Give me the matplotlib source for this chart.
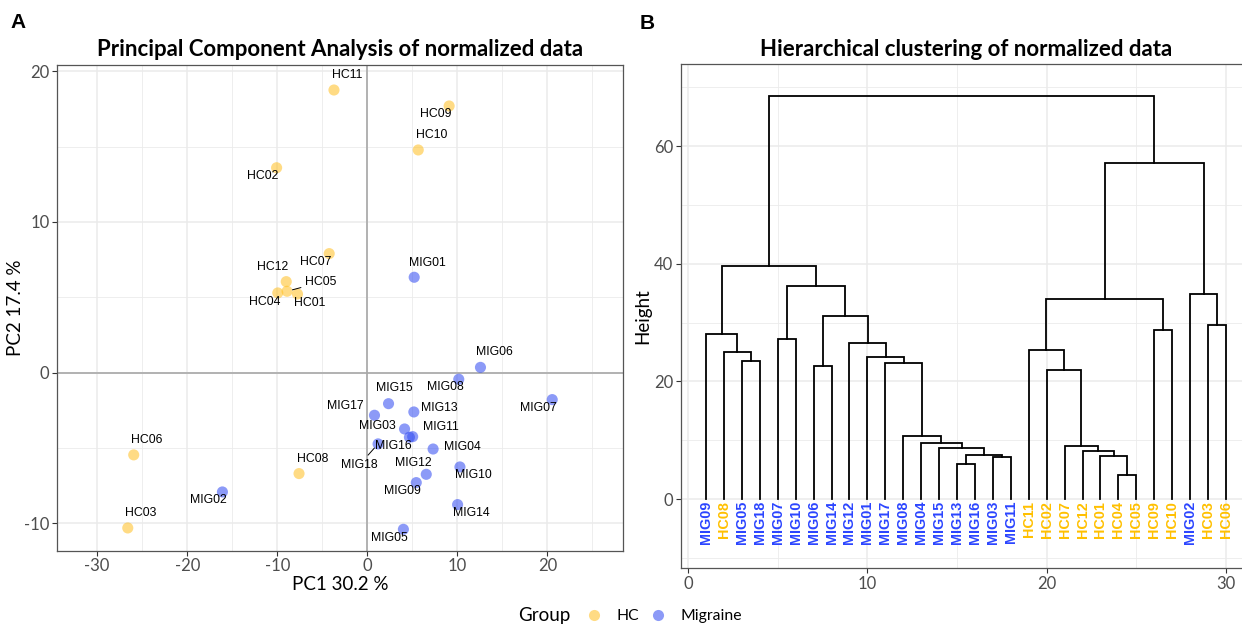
import matplotlib
matplotlib.use("Agg")
import matplotlib.pyplot as plt
from matplotlib.lines import Line2D
from matplotlib.ticker import FixedLocator, FuncFormatter

# ---------------- data ----------------
samples = ["HC01", "HC02", "HC03", "HC04", "HC05", "HC06", "HC07", "HC08", "HC09", "HC10",
           "HC11", "HC12", "MIG01", "MIG02", "MIG03", "MIG04", "MIG05", "MIG06", "MIG07",
           "MIG08", "MIG09", "MIG10", "MIG11", "MIG12", "MIG13", "MIG14", "MIG15", "MIG16",
           "MIG17", "MIG18"]
groups = ["HC"] * 12 + ["Migraine"] * 18
pc1 = [-7.75, -10.07, -26.6, -9.94, -8.91, -25.94, -4.23, -7.58, 9.09, 5.66,
       -3.7, -9.0, 5.21, -16.09, 4.14, 7.31, 4.01, 12.57, 20.54,
       10.16, 5.44, 10.29, 5.04, 6.55, 5.17, 10.03, 2.36, 4.68,
       0.8, 1.2]
pc2 = [5.22, 13.6, -10.31, 5.29, 5.4, -5.46, 7.9, -6.7, 17.7, 14.78,
       18.76, 6.04, 6.33, -7.92, -3.74, -5.07, -10.4, 0.35, -1.79,
       -0.44, -7.3, -6.26, -4.25, -6.75, -2.61, -8.76, -2.06, -4.29,
       -2.83, -4.73]
pc1_label = "PC1 30.2 %"
pc2_label = "PC2 17.4 %"

# dendrogram: leaf order and merges (left child, right child, height)
leaf_order = ["MIG09", "HC08", "MIG05", "MIG18", "MIG07", "MIG10", "MIG06", "MIG14", "MIG12",
              "MIG01", "MIG17", "MIG08", "MIG04", "MIG15", "MIG13", "MIG16", "MIG03", "MIG11",
              "HC11", "HC02", "HC07", "HC12", "HC01", "HC04", "HC05", "HC09", "HC10", "MIG02",
              "HC03", "HC06"]
merge_names = ["m1", "m2", "m3", "m4", "m5", "m6", "m7", "m8", "m9", "m10", "m11", "m12",
               "m13", "m14", "m15", "m16", "m17", "m18", "m19", "m20", "m21", "m22", "m23",
               "m24", "m25", "m26", "m27", "m28", "m29"]
merge_left = ["MIG05", "HC08", "MIG09", "MIG07", "MIG06", "MIG13", "MIG03", "m6", "MIG15",
              "MIG04", "MIG08", "MIG17", "MIG01", "MIG12", "m5", "m4", "m3",
              "HC04", "HC01", "HC12", "HC07", "HC02", "HC11", "HC09", "m23", "HC03", "MIG02",
              "m25", "m17"]
merge_right = ["MIG18", "m1", "m2", "MIG10", "MIG14", "MIG16", "MIG11", "m7", "m8",
               "m9", "m10", "m11", "m12", "m13", "m14", "m15", "m16",
               "HC05", "m18", "m19", "m20", "m21", "m22", "HC10", "m24", "HC06", "m26",
               "m27", "m28"]
merge_height = [23.5, 24.95, 28.05, 27.2, 22.55, 6.0, 7.14, 7.48, 8.67,
                9.57, 10.7, 23.17, 24.2, 26.46, 31.15, 36.25, 39.6,
                4.12, 7.34, 8.14, 9.04, 21.9, 25.3, 28.8, 34.0, 29.5, 34.9,
                57.1, 68.44]

# label placement offsets (data units) for the PCA text labels
label_dx = [1.38, -1.52, 1.42, -1.47, 3.74, 1.47, -1.47, 1.48, -1.51, 1.51,
            1.43, -1.52, 1.43, -1.51, -2.98, 3.21, -1.56, 1.51, -1.56,
            -1.51, -1.52, 1.47, 3.16, -1.43, 2.85, 1.51, 0.67, -1.78,
            -3.21, -2.09]
label_dy = [-0.57, -0.52, 1.02, -0.58, 0.6, 0.97, -0.53, 0.97, -0.53, 0.99,
            1.0, 1.0, 0.97, -0.55, 0.2, 0.11, -0.55, 1.0, -0.58,
            -0.53, -0.58, -0.53, 0.62, 0.78, 0.29, -0.53, 1.06, -0.56,
            0.62, -1.4]
segment_labels = ["HC05", "MIG18"]

# ---------------- style ----------------
W, H = 1242, 624
point_col = {"HC": "#FFBF1F", "Migraine": "#2E48F2"}
text_col = {"HC": "#FFC000", "Migraine": "#2B45FF"}
grid_col = "#EBEBEB"
frame_col = "#555555"
tick_lab_col = "#4D4D4D"
ui_font = ["Lato", "DejaVu Sans"]
lab_font = ["Liberation Sans", "DejaVu Sans"]

fig = plt.figure(figsize=(W / 100, H / 100), dpi=100)


def add_ax(left, top, right, bottom):
    return fig.add_axes([left / W, 1 - bottom / H, (right - left) / W, (bottom - top) / H])


def style_axes(ax, xmaj, xmin, ymaj, ymin):
    ax.xaxis.set_major_locator(FixedLocator(xmaj))
    ax.xaxis.set_minor_locator(FixedLocator(xmin))
    ax.yaxis.set_major_locator(FixedLocator(ymaj))
    ax.yaxis.set_minor_locator(FixedLocator(ymin))
    ax.grid(which="major", color=grid_col, lw=1.1, zorder=0)
    ax.grid(which="minor", color=grid_col, lw=0.6, zorder=0)
    ax.set_axisbelow(True)
    fmt = FuncFormatter(lambda v, p: ("%g" % v).replace("\u2212", "-"))
    ax.xaxis.set_major_formatter(fmt)
    ax.yaxis.set_major_formatter(fmt)
    ax.tick_params(which="major", length=3.5, width=0.8, color="#333333",
                   labelcolor=tick_lab_col, labelsize=12, pad=2)
    ax.tick_params(which="minor", length=0)
    for lab in ax.get_xticklabels() + ax.get_yticklabels():
        lab.set_fontfamily(ui_font)
    for s in ax.spines.values():
        s.set_color(frame_col)
        s.set_linewidth(0.9)


# ---------------- panel A: PCA ----------------
axA = add_ax(57, 64.7, 623, 550.7)
axA.set_xlim(-34.46, 28.4)
axA.set_ylim(-11.82, 20.44)
style_axes(axA, [-30, -20, -10, 0, 10, 20], [-25, -15, -5, 5, 15, 25],
           [-10, 0, 10, 20], [-5, 5, 15])
axA.axhline(0, color="#A8A8A8", lw=1.2, zorder=1)
axA.axvline(0, color="#A8A8A8", lw=1.2, zorder=1)

for grp in ["HC", "Migraine"]:
    xs = [x for x, g in zip(pc1, groups) if g == grp]
    ys = [y for y, g in zip(pc2, groups) if g == grp]
    axA.scatter(xs, ys, s=64, color=point_col[grp], alpha=0.55, edgecolors="none", zorder=3)

for name, x, y, dx, dy in zip(samples, pc1, pc2, label_dx, label_dy):
    if name in segment_labels:
        axA.annotate(name, xy=(x, y), xytext=(x + dx, y + dy), ha="center", va="center",
                     fontsize=8.8, family=lab_font, color="black", zorder=4,
                     arrowprops=dict(arrowstyle="-", color="black", lw=0.7,
                                     shrinkA=1, shrinkB=4))
    else:
        axA.text(x + dx, y + dy, name, ha="center", va="center", fontsize=8.8,
                 family=lab_font, color="black", zorder=4)

axA.set_title("Principal Component Analysis of normalized data", fontsize=16,
              fontweight="bold", family=ui_font, pad=6)
axA.set_xlabel(pc1_label, fontsize=13.5, family=ui_font, labelpad=1)
axA.set_ylabel(pc2_label, fontsize=13.5, family=ui_font, labelpad=0)

# ---------------- panel B: dendrogram ----------------
axB = add_ax(680.7, 64.3, 1252, 568)
axB.set_xlim(-0.41, 31.45)
axB.set_ylim(-11.73, 73.9)
style_axes(axB, [0, 10, 20, 30], [5, 15, 25], [0, 20, 40, 60], [-10, 10, 30, 50, 70])

node_x = {name: i + 1 for i, name in enumerate(leaf_order)}
node_h = {name: 0.0 for name in leaf_order}
for nm, l, r, h in zip(merge_names, merge_left, merge_right, merge_height):
    xl, xr = node_x[l], node_x[r]
    axB.plot([xl, xl, xr, xr], [node_h[l], h, h, node_h[r]], color="black", lw=1.3,
             solid_joinstyle="miter", zorder=3)
    node_x[nm] = (xl + xr) / 2
    node_h[nm] = h

grp_of = dict(zip(samples, groups))
for name in leaf_order:
    axB.text(node_x[name], -0.3, name, rotation=90, ha="center", va="top",
             fontsize=10.4, fontweight="bold", family=lab_font,
             color=text_col[grp_of[name]], zorder=4)

axB.set_title("Hierarchical clustering of normalized data", fontsize=16,
              fontweight="bold", family=ui_font, pad=6)
axB.set_ylabel("Height", fontsize=13.5, family=ui_font, labelpad=2)

# ---------------- panel letters ----------------
fig.text(18 / W, 1 - 23 / H, "A", fontsize=15, fontweight="bold", family=lab_font,
         ha="center", va="center")
fig.text(647 / W, 1 - 23.5 / H, "B", fontsize=15, fontweight="bold", family=lab_font,
         ha="center", va="center")

# ---------------- legend ----------------
fig.text(544 / W, 1 - 616 / H, "Group", fontsize=13.5, family=ui_font,
         ha="center", va="center")
handles = [Line2D([], [], ls="none", marker="o", markersize=8, markeredgewidth=0,
                  color=point_col[g], alpha=0.55) for g in ["HC", "Migraine"]]
leg = fig.legend(handles, ["HC", "Migraine"], ncol=2, loc="center left",
                 bbox_to_anchor=(586 / W, 1 - 616 / H), frameon=False,
                 prop={"family": ui_font, "size": 11.3}, handletextpad=0.95,
                 columnspacing=0.7, handlelength=1.0, borderaxespad=0, borderpad=0)

fig.savefig("out.png", dpi=100)
